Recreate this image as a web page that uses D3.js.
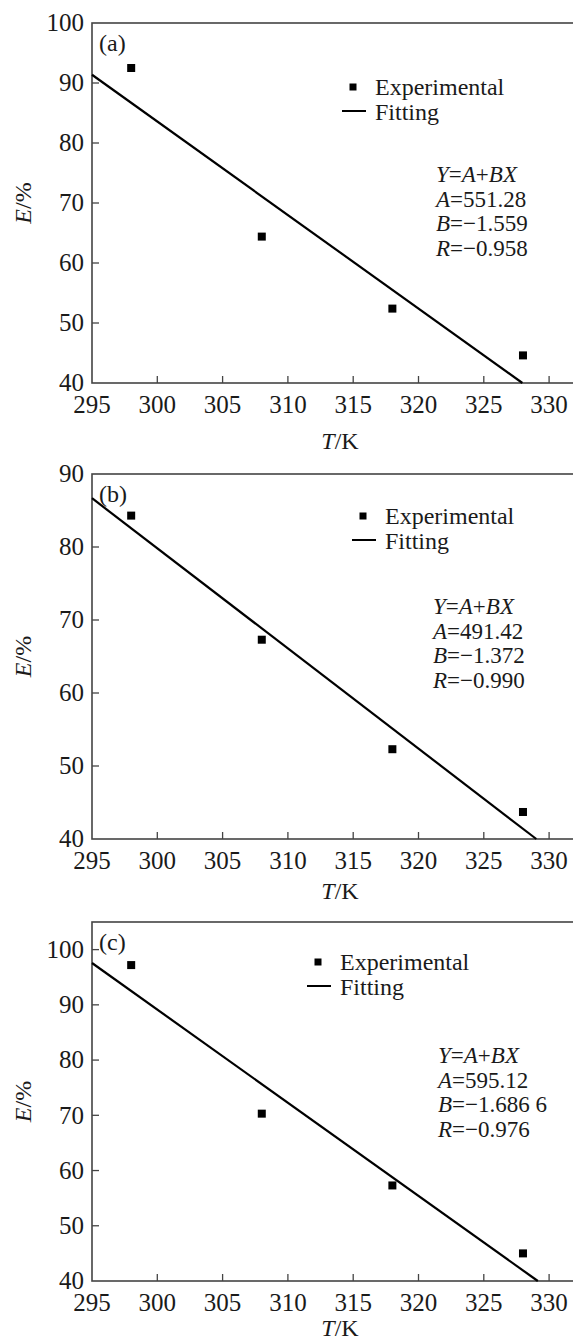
<!DOCTYPE html>
<html>
<head>
<meta charset="utf-8">
<script src="https://cdn.jsdelivr.net/npm/d3@7"></script>
<style>
  html, body { margin: 0; padding: 0; background: #fff; }
  svg { display: block; }
  text { font-family: "Liberation Serif", "Times New Roman", serif; fill: #1a1a1a; }
</style>
</head>
<body>
<svg id="chart" width="573" height="1340"></svg>
<script>
"use strict";

// temperatures (K) shared by the three panels
const temps = [298, 308, 318, 328];

// extraction efficiency E/%
const effA = [92.5, 64.4, 52.4, 44.6];
const effB = [84.3, 67.3, 52.3, 43.7];
const effC = [97.2, 70.3, 57.3, 45.0];

// linear fit Y = A + BX
const fitA = [551.28, 491.42, 595.12];
const fitB = [-1.559, -1.372, -1.6866];
const fitLabelA = ["551.28", "491.42", "595.12"];
const fitLabelB = ["\u22121.559", "\u22121.372", "\u22121.686 6"];
const fitLabelR = ["\u22120.958", "\u22120.990", "\u22120.976"];

const panelLabels = ["(a)", "(b)", "(c)"];
const xTicks = [300, 305, 310, 315, 320, 325, 330];
const xTickLabels = [295, 300, 305, 310, 315, 320, 325, 330];
const yTicksA = [40, 50, 60, 70, 80, 90, 100];
const yTicksB = [40, 50, 60, 70, 80, 90];
const yTicksC = [40, 50, 60, 70, 80, 90, 100];

const svg = d3.select("#chart");
const left = 92;
const x = d3.scaleLinear().domain([295, 335]).range([left, left + 40 * 13.06]);

const panels = [
    {eff: effA, yTicks: yTicksA, yDomain: [40, 100], top: 23, bottom: 383,
     legend: [353, 87], note: [436, 182], xTitle: 66},
    {eff: effB, yTicks: yTicksB, yDomain: [40, 90], top: 474, bottom: 839,
     legend: [363, 516], note: [433, 614], xTitle: 60},
    {eff: effC, yTicks: yTicksC, yDomain: [40, 105], top: 922, bottom: 1281,
     legend: [318, 962], note: [438, 1063], xTitle: 55},
];

panels.forEach((p, i) => {
    const y = d3.scaleLinear().domain(p.yDomain).range([p.bottom, p.top]);
    const g = svg.append("g").attr("class", `panel panel-${i}`);

    // frame (right side runs off the page, as in the original)
    g.append("rect")
        .attr("x", left).attr("y", p.top)
        .attr("width", 620 - left).attr("height", p.bottom - p.top)
        .attr("fill", "none").attr("stroke", "#444").attr("stroke-width", 1.6);

    // inward ticks
    g.append("g").selectAll("line.xt")
        .data(xTicks)
        .join("line")
        .attr("x1", d => x(d)).attr("x2", d => x(d))
        .attr("y1", p.bottom).attr("y2", p.bottom - 7)
        .attr("stroke", "#444").attr("stroke-width", 1.3);
    g.append("g").selectAll("line.yt")
        .data(p.yTicks.filter(t => t > p.yDomain[0] && t < p.yDomain[1]))
        .join("line")
        .attr("x1", left).attr("x2", left + 7)
        .attr("y1", d => y(d)).attr("y2", d => y(d))
        .attr("stroke", "#444").attr("stroke-width", 1.3);

    // tick labels
    g.append("g").selectAll("text")
        .data(xTickLabels)
        .join("text")
        .attr("x", d => x(d)).attr("y", p.bottom + 30)
        .attr("text-anchor", "middle")
        .attr("font-size", 25)
        .text(d => d);
    g.append("g").selectAll("text")
        .data(p.yTicks)
        .join("text")
        .attr("x", left - 8).attr("y", d => y(d))
        .attr("dy", "0.33em")
        .attr("text-anchor", "end")
        .attr("font-size", 25)
        .text(d => d);

    // axis titles
    const xt = g.append("text")
        .attr("x", 340).attr("y", p.bottom + p.xTitle)
        .attr("text-anchor", "middle").attr("font-size", 24);
    xt.append("tspan").attr("font-style", "italic").text("T");
    xt.append("tspan").text("/K");

    const yt = g.append("text")
        .attr("transform", `translate(31,${(p.top + p.bottom) / 2}) rotate(-90)`)
        .attr("text-anchor", "middle").attr("font-size", 24);
    yt.append("tspan").attr("font-style", "italic").text("E");
    yt.append("tspan").text("/%");

    // panel tag
    g.append("text")
        .attr("x", 99).attr("y", p.top + 28)
        .attr("font-size", 24)
        .text(panelLabels[i]);

    // fitted line, clipped where it meets the bottom axis
    const xEnd = (fitA[i] - p.yDomain[0]) / -fitB[i];
    g.append("path")
        .datum([295, xEnd])
        .attr("fill", "none").attr("stroke", "#000").attr("stroke-width", 2.2)
        .attr("d", d3.line().x(d => x(d)).y(d => y(fitA[i] + fitB[i] * d)));

    // experimental points
    g.append("g").selectAll("rect")
        .data(temps.map((t, k) => [t, p.eff[k]]))
        .join("rect")
        .attr("x", d => x(d[0]) - 4).attr("y", d => y(d[1]) - 4)
        .attr("width", 8).attr("height", 8)
        .attr("fill", "#000");

    // legend
    const [lx, ly] = p.legend;
    g.append("rect")
        .attr("x", lx - 3.5).attr("y", ly - 3.5)
        .attr("width", 7).attr("height", 7).attr("fill", "#000");
    g.append("text")
        .attr("x", lx + 22).attr("y", ly + 8)
        .attr("font-size", 24).text("Experimental");
    g.append("line")
        .attr("x1", lx - 11).attr("x2", lx + 13)
        .attr("y1", ly + 24).attr("y2", ly + 24)
        .attr("stroke", "#000").attr("stroke-width", 2);
    g.append("text")
        .attr("x", lx + 22).attr("y", ly + 33)
        .attr("font-size", 24).text("Fitting");

    // fit parameters
    const [nx, ny] = p.note;
    const lines = [
        [["Y", true], ["=", false], ["A", true], ["+", false], ["BX", true]],
        [["A", true], ["=" + fitLabelA[i], false]],
        [["B", true], ["=" + fitLabelB[i], false]],
        [["R", true], ["=" + fitLabelR[i], false]],
    ];
    lines.forEach((parts, k) => {
        const t = g.append("text")
            .attr("x", nx).attr("y", ny + k * 24.5)
            .attr("font-size", 23);
        parts.forEach(([s, it]) => t.append("tspan")
            .attr("font-style", it ? "italic" : "normal").text(s));
    });
});
</script>
</body>
</html>
